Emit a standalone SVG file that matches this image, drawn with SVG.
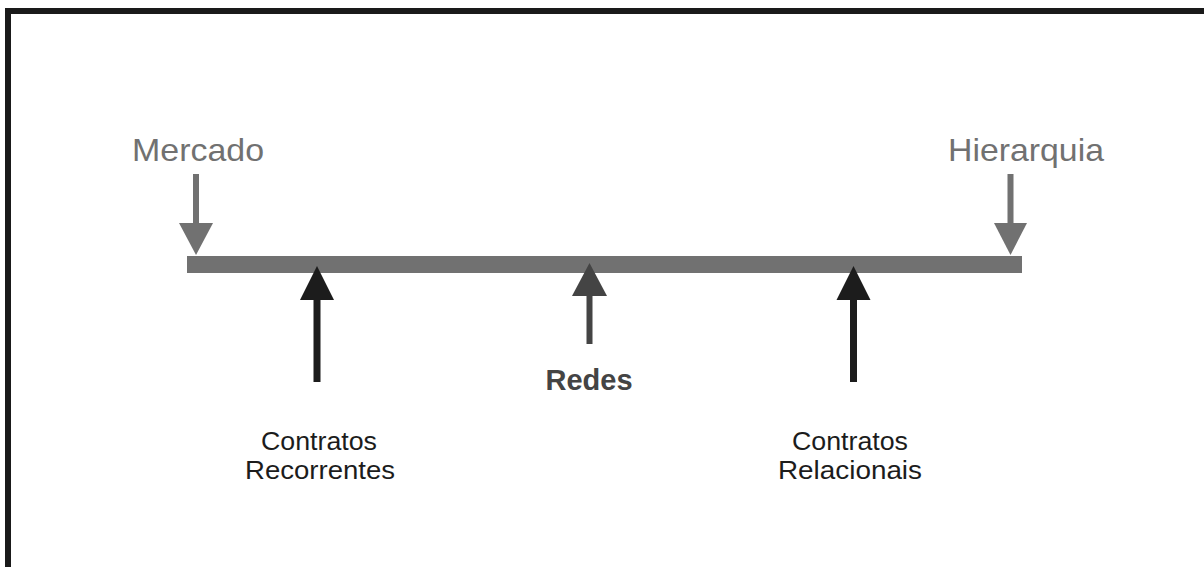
<svg xmlns="http://www.w3.org/2000/svg" width="1204" height="567" viewBox="0 0 1204 567">
  <style>
    .gray { fill: #717171; }
    .dark { fill: #1c1c1c; }
    .mid { fill: #444444; }
    .lbl { font-family: "Liberation Sans", Arial, sans-serif; }
    .top { font-size: 32px; fill: #717171; }
    .low { font-size: 25px; fill: #1c1c1c; text-anchor: middle; }
    .bold { font-size: 29px; font-weight: bold; fill: #444444; text-anchor: middle; }
  </style>
  <rect width="1204" height="567" fill="#ffffff"/>
  <!-- frame: left and top edges -->
  <path d="M8 567 V11 H1204" fill="none" stroke="#1a1a1a" stroke-width="6"/>

  <!-- scale bar -->
  <g id="scale">
    <rect x="187" y="256" width="835" height="17" class="gray"/>
  </g>

  <g id="connectors">
    <!-- Mercado arrow -->
    <rect x="193" y="174" width="6" height="50" class="gray"/>
    <polygon points="179,223 213,223 196,255" class="gray"/>
    <!-- Hierarquia arrow -->
    <rect x="1007.5" y="174" width="6" height="50" class="gray"/>
    <polygon points="994,223 1027,223 1010.5,255" class="gray"/>
    <!-- Contratos Recorrentes arrow -->
    <rect x="313.5" y="299" width="7" height="83" class="dark"/>
    <polygon points="300,300 334,300 317,266" class="dark"/>
    <!-- Redes arrow -->
    <rect x="586.5" y="295" width="6" height="49" class="mid"/>
    <polygon points="572,296 607,296 589.5,263" class="mid"/>
    <!-- Contratos Relacionais arrow -->
    <rect x="850" y="299" width="7" height="83" class="dark"/>
    <polygon points="836.5,300 870.5,300 853.5,266" class="dark"/>
  </g>

  <g id="mercado">
    <text x="132" y="161" class="lbl top" textLength="132" lengthAdjust="spacingAndGlyphs">Mercado</text>
  </g>
  <g id="hierarquia">
    <text x="948" y="161" class="lbl top" textLength="156" lengthAdjust="spacingAndGlyphs">Hierarquia</text>
  </g>
  <g id="redes">
    <text x="589" y="390" class="lbl bold">Redes</text>
  </g>
  <g id="recorrentes">
    <text x="319" y="450" class="lbl low" textLength="116" lengthAdjust="spacingAndGlyphs">Contratos</text>
    <text x="320" y="479" class="lbl low" textLength="150" lengthAdjust="spacingAndGlyphs">Recorrentes</text>
  </g>
  <g id="relacionais">
    <text x="850" y="450" class="lbl low" textLength="116" lengthAdjust="spacingAndGlyphs">Contratos</text>
    <text x="850" y="479" class="lbl low" textLength="144" lengthAdjust="spacingAndGlyphs">Relacionais</text>
  </g>
</svg>
